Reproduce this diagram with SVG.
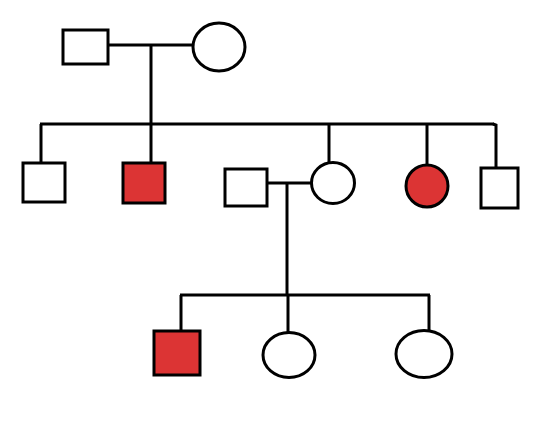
<svg xmlns="http://www.w3.org/2000/svg" width="552" height="426" viewBox="0 0 552 426">
<style>
.s{fill:#fff;stroke:#000;stroke-width:3}
.a{fill:#dc3434;stroke:#000;stroke-width:3}
.c{fill:none;stroke:#000;stroke-width:3}
</style>
<rect width="552" height="426" fill="#fff"/>
<g id="connectors" class="c">
<line x1="108" y1="45" x2="194" y2="45"/>
<line x1="151" y1="45" x2="151" y2="124"/>
<line x1="40" y1="124" x2="494" y2="124"/>
<line x1="41" y1="124" x2="41" y2="163"/>
<line x1="151" y1="124" x2="151" y2="163"/>
<line x1="329" y1="124" x2="329" y2="163"/>
<line x1="427" y1="124" x2="427" y2="165"/>
<polyline points="493,124 496,125 496,168"/>
<line x1="267" y1="183" x2="312" y2="183"/>
<line x1="287" y1="183" x2="287" y2="295"/>
<line x1="180" y1="295" x2="430" y2="295"/>
<line x1="181" y1="295" x2="181" y2="331"/>
<line x1="288" y1="295" x2="288" y2="333"/>
<line x1="429" y1="295" x2="429" y2="331"/>
</g>
<g id="gf"><rect class="s" x="63" y="30" width="45" height="34"/></g>
<g id="gm"><ellipse class="s" cx="219" cy="47" rx="26" ry="24"/></g>
<g id="c1"><rect class="s" x="23" y="163" width="42" height="39"/></g>
<g id="c2"><rect class="a" x="123" y="163" width="42" height="40"/></g>
<g id="sp"><rect class="s" x="225" y="169" width="42" height="37"/></g>
<g id="c3"><ellipse class="s" cx="333" cy="183" rx="21.5" ry="20.5"/></g>
<g id="c4"><ellipse class="a" cx="427" cy="186" rx="21" ry="21"/></g>
<g id="c5"><rect class="s" x="481" y="168" width="37" height="40"/></g>
<g id="g1"><rect class="a" x="154" y="331" width="46" height="44"/></g>
<g id="g2"><ellipse class="s" cx="289" cy="355" rx="26" ry="22.5"/></g>
<g id="g3"><ellipse class="s" cx="424" cy="354" rx="28" ry="23.5"/></g>
</svg>
